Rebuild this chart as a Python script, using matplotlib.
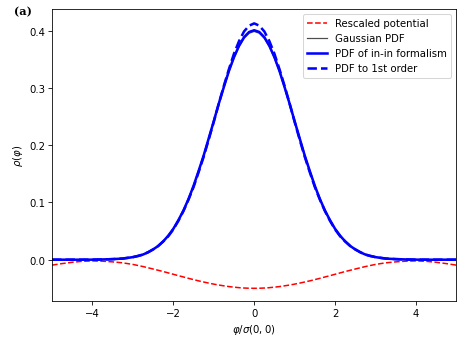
import matplotlib
matplotlib.use("Agg")
import matplotlib.pyplot as plt

# x grid (phi / sigma) for x >= 0: step 0.125 up to 3, then 0.25 up to 5
x_half = [0.0, 0.125, 0.25, 0.375, 0.5, 0.625, 0.75, 0.875, 1.0, 1.125, 1.25,
          1.375, 1.5, 1.625, 1.75, 1.875, 2.0, 2.125, 2.25, 2.375, 2.5, 2.625,
          2.75, 2.875, 3.0, 3.25, 3.5, 3.75, 4.0, 4.25, 4.5, 4.75, 5.0]

# values for x >= 0 (curves are symmetric)
potential_half = [-0.0500, -0.0499, -0.0495, -0.0489, -0.0480, -0.0470, -0.0457,
                  -0.0443, -0.0427, -0.0409, -0.0390, -0.0370, -0.0348, -0.0326,
                  -0.0302, -0.0279, -0.0255, -0.0231, -0.0207, -0.0185, -0.0163,
                  -0.0141, -0.0120, -0.0101, -0.0083, -0.0055, -0.0038, -0.0026,
                  -0.0021, -0.0028, -0.0045, -0.0068, -0.0095]
gauss_half = [0.3989, 0.3958, 0.3867, 0.3718, 0.3521, 0.3282, 0.3011, 0.2720,
              0.2420, 0.2119, 0.1826, 0.1551, 0.1295, 0.1065, 0.0863, 0.0689,
              0.0540, 0.0417, 0.0317, 0.0237, 0.0175, 0.0126, 0.0091, 0.0064,
              0.0044, 0.0020, 0.0009, 0.0004, 0.0001, 0.0, 0.0, 0.0, 0.0]
inin_half = [0.401, 0.398, 0.389, 0.374, 0.354, 0.330, 0.302, 0.273,
             0.242, 0.212, 0.182, 0.155, 0.129, 0.106, 0.086, 0.069,
             0.054, 0.042, 0.032, 0.024, 0.018, 0.013, 0.009, 0.0065,
             0.0045, 0.002, 0.001, 0.0004, 0.0001, 0.0, 0.0, 0.0, 0.0]
first_half = [0.413, 0.409, 0.399, 0.382, 0.360, 0.333, 0.304, 0.273,
              0.241, 0.210, 0.180, 0.153, 0.127, 0.105, 0.085, 0.068,
              0.053, 0.041, 0.032, 0.024, 0.018, 0.013, 0.009, 0.0065,
              0.0045, 0.002, 0.001, 0.0004, 0.0001, 0.0, 0.0, 0.0, 0.0]


def mirror(xs, ys):
    return [-v for v in xs[:0:-1]] + xs, ys[:0:-1] + ys


x, potential = mirror(x_half, potential_half)
_, gauss = mirror(x_half, gauss_half)
_, inin = mirror(x_half, inin_half)
_, first = mirror(x_half, first_half)

fig = plt.figure(figsize=(6.4, 4.735), dpi=73.28)
ax = fig.add_axes([0.111, 0.13, 0.862, 0.841])

ax.plot(x, potential, "r--", lw=1.5, label="Rescaled potential")
ax.plot(x, gauss, color="0.3", lw=1.2, label="Gaussian PDF")
ax.plot(x, inin, "b-", lw=2.5, label="PDF of in-in formalism")
ax.plot(x, first, "b--", lw=2.5, label="PDF to 1st order")

ax.set_xlim(-5, 5)
ax.set_ylim(-0.072, 0.438)
ax.set_xticks([-4, -2, 0, 2, 4])
ax.set_yticks([0.0, 0.1, 0.2, 0.3, 0.4])
ax.set_xlabel(r"$\varphi/\sigma(0,0)$")
ax.set_ylabel(r"$\rho(\varphi)$")
ax.legend(loc="upper right")

fig.text(0.03, 0.955, "(a)", fontsize=11, fontweight="bold", family="DejaVu Serif")

fig.savefig("out.png", dpi=73.28)
